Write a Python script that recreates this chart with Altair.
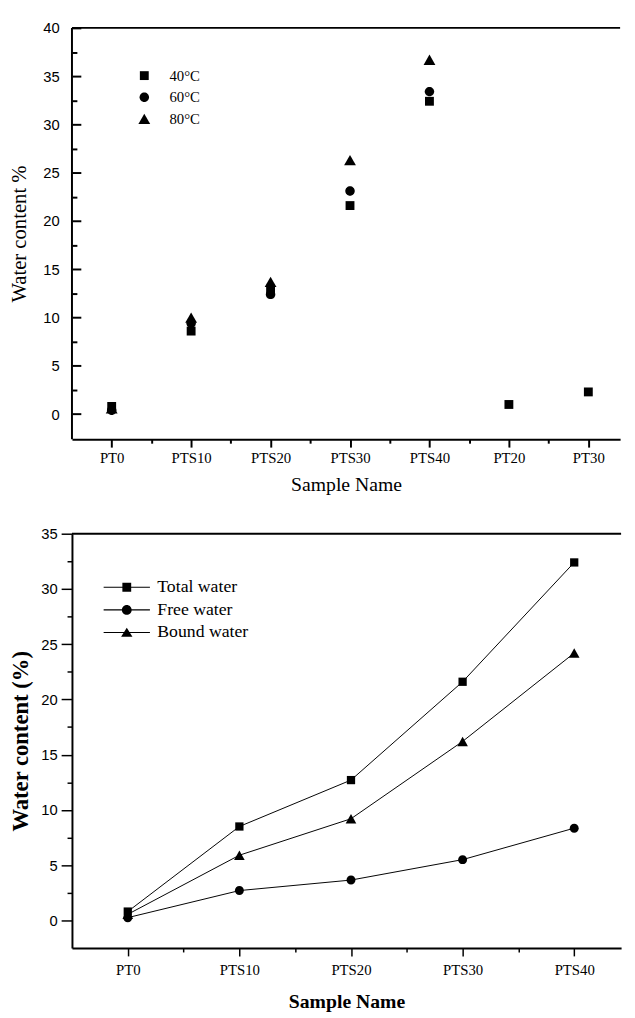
import altair as alt
import pandas as pd

# ---------------- data: top panel ----------------
top_samples = ["PT0", "PTS10", "PTS20", "PTS30", "PTS40", "PT20", "PT30"]
top_temps = ["40°C", "60°C", "80°C"]
water_40 = [0.8, 8.6, 12.8, 21.6, 32.4, 1.0, 2.3]
water_60 = [0.4, 9.4, 12.4, 23.1, 33.4]
water_80 = [0.6, 10.0, 13.7, 26.3, 36.7]

# ---------------- data: bottom panel ----------------
bot_samples = ["PT0", "PTS10", "PTS20", "PTS30", "PTS40"]
bot_series = ["Total water", "Free water", "Bound water"]
total_water = [0.8, 8.5, 12.7, 21.6, 32.4]
free_water = [0.25, 2.7, 3.65, 5.5, 8.35]
bound_water = [0.55, 5.9, 9.2, 16.2, 24.2]

top_rows = []
for temp, vals in zip(top_temps, [water_40, water_60, water_80]):
    for i, v in enumerate(vals):
        top_rows.append({"sample": top_samples[i], "idx": i, "temp": temp, "value": v})
df_top = pd.DataFrame(top_rows)

bot_rows = []
for s, vals in zip(bot_series, [total_water, free_water, bound_water]):
    for i, v in enumerate(vals):
        bot_rows.append({"sample": bot_samples[i], "idx": i, "series": s, "value": v})
df_bot = pd.DataFrame(bot_rows)

dummy = pd.DataFrame({"k": [0]})

SERIF = "Liberation Serif"
SANS = "Liberation Sans"


def label_expr(names):
    return "[" + ",".join("'" + n + "'" for n in names) + "][datum.value]"


# symbol shapes (unit box -1..1 mapped onto sqrt(size) pixels)
top_shapes = [
    "M-0.75,-0.75H0.75V0.75H-0.75Z",
    "M-0.8,0A0.8,0.8,0,1,1,0.8,0A0.8,0.8,0,1,1,-0.8,0Z",
    "M0,-0.88L1,0.88H-1Z",
]
bot_shapes = [
    "M-0.7,-0.7H0.7V0.7H-0.7Z",
    "M-0.76,0A0.76,0.76,0,1,1,0.76,0A0.76,0.76,0,1,1,-0.76,0Z",
    "M0,-0.8L0.9,0.8H-0.9Z",
]
legend_paths = [
    "M-2.94,-0.07H2.94V0.07H-2.94ZM-0.56,-0.56H0.56V0.56H-0.56Z",
    "M-2.94,-0.07H2.94V0.07H-2.94ZM-0.62,0A0.62,0.62,0,1,1,0.62,0A0.62,0.62,0,1,1,-0.62,0Z",
    "M-2.94,-0.07H2.94V0.07H-2.94ZM0,-0.62L0.72,0.55H-0.72Z",
]

# ================= TOP PANEL =================
W1, H1 = 557, 418
xs_top = alt.Scale(domain=[-0.5, 6.4], nice=False, zero=False)
ys_top = alt.Scale(domain=[-2.6, 40], nice=False, zero=False)

pts_top = alt.Chart(df_top).mark_point(
    filled=True, color="black", opacity=1, size=144, strokeWidth=0
).encode(
    x=alt.X("idx:Q", scale=xs_top, axis=alt.Axis(
        orient="bottom", values=list(range(len(top_samples))),
        labelExpr=label_expr(top_samples), title="Sample Name",
        titleFont=SERIF, titleFontSize=20, titleFontWeight="normal",
        labelFont=SERIF, labelFontSize=15, tickSize=8, tickWidth=2,
        domainWidth=2, labelPadding=4, titlePadding=9, grid=False)),
    y=alt.Y("value:Q", scale=ys_top, axis=alt.Axis(
        orient="left", values=list(range(0, 41, 5)), title="Water content %",
        titleFont=SERIF, titleFontSize=21, titleFontWeight="normal",
        labelFont=SANS, labelFontSize=15, tickSize=9, tickWidth=2,
        domain=False, offset=-9, labelPadding=13, titlePadding=14, grid=False)),
    shape=alt.Shape("temp:N", scale=alt.Scale(domain=top_temps, range=top_shapes),
                    legend=alt.Legend(
                        orient="none", legendX=66, legendY=41, title=None, padding=0,
                        labelFont=SERIF, labelFontSize=15, labelColor="black",
                        symbolSize=144, symbolFillColor="black", symbolStrokeWidth=0,
                        rowPadding=6, labelOffset=18)),
)

minor_top = alt.Chart(df_top).mark_point(opacity=0).encode(
    x=alt.X("idx:Q", scale=xs_top, axis=alt.Axis(
        orient="bottom", values=[i + 0.5 for i in range(6)], labels=False,
        title=None, tickSize=4, tickWidth=2, domain=False, grid=False)),
    y=alt.Y("value:Q", scale=ys_top, axis=alt.Axis(
        orient="left", values=[2.5 + 5 * i for i in range(8)], labels=False,
        title=None, tickSize=5, tickWidth=2, domain=False, offset=-5, grid=False)),
)

frame_top_h = alt.Chart(dummy).mark_rule(color="black", strokeWidth=2).encode(
    x=alt.value(0), x2=alt.value(W1), y=alt.value(0))
frame_top_v = alt.Chart(dummy).mark_rule(color="black", strokeWidth=2).encode(
    x=alt.value(0), y=alt.value(0), y2=alt.value(H1))

top = alt.layer(frame_top_h, frame_top_v, minor_top, pts_top).resolve_axis(
    x="independent", y="independent").properties(width=W1, height=H1)

# ================= BOTTOM PANEL =================
W2, H2 = 558, 421
xs_bot = alt.Scale(domain=[-0.5, 4.42], nice=False, zero=False)
ys_bot = alt.Scale(domain=[-2.5, 35], nice=False, zero=False)

lines_b = alt.Chart(df_bot).mark_line(color="black", strokeWidth=1).encode(
    x=alt.X("idx:Q", scale=xs_bot, axis=None),
    y=alt.Y("value:Q", scale=ys_bot, axis=None),
    detail="series:N",
)

pts_b = alt.Chart(df_bot).mark_point(
    filled=True, color="black", opacity=1, size=144, strokeWidth=0
).encode(
    x=alt.X("idx:Q", scale=xs_bot, axis=alt.Axis(
        orient="bottom", values=list(range(len(bot_samples))),
        labelExpr=label_expr(bot_samples), title="Sample Name",
        titleFont=SERIF, titleFontSize=20, titleFontWeight="bold",
        labelFont=SERIF, labelFontSize=15, tickSize=8, tickWidth=1.5,
        domainWidth=2, labelPadding=7, titlePadding=14, grid=False)),
    y=alt.Y("value:Q", scale=ys_bot, axis=alt.Axis(
        orient="left", values=list(range(0, 36, 5)), title="Water content (%)",
        titleFont=SERIF, titleFontSize=23, titleFontWeight="bold",
        labelFont=SANS, labelFontSize=15, tickSize=11, tickWidth=1.5,
        domainWidth=2, labelPadding=4, titlePadding=9, grid=False)),
    shape=alt.Shape("series:N", scale=alt.Scale(domain=bot_series, range=bot_shapes),
                    legend=None),
)

minor_b = alt.Chart(df_bot).mark_point(opacity=0).encode(
    x=alt.X("idx:Q", scale=xs_bot, axis=alt.Axis(
        orient="bottom", values=[i + 0.5 for i in range(4)], labels=False,
        title=None, tickSize=4, tickWidth=1.5, domain=False, grid=False)),
    y=alt.Y("value:Q", scale=ys_bot, axis=alt.Axis(
        orient="left", values=[2.5 + 5 * i for i in range(7)], labels=False,
        title=None, tickSize=5, tickWidth=1.5, domain=False, grid=False)),
)

leg_b = alt.Chart(df_bot).mark_point(
    filled=True, color="black", opacity=0, size=256, strokeWidth=0
).encode(
    x=alt.X("idx:Q", scale=xs_bot, axis=None),
    y=alt.Y("value:Q", scale=ys_bot, axis=None),
    shape=alt.Shape("series:N", scale=alt.Scale(domain=bot_series, range=legend_paths),
                    legend=alt.Legend(
                        orient="none", legendX=46.7, legendY=45.4, title=None, padding=0,
                        labelFont=SERIF, labelFontSize=18, labelColor="black",
                        symbolSize=256, symbolStrokeWidth=0, symbolFillColor="black",
                        rowPadding=5, labelOffset=22)),
)

frame_bot_h = alt.Chart(dummy).mark_rule(color="black", strokeWidth=2).encode(
    x=alt.value(0), x2=alt.value(W2), y=alt.value(0))

bot = alt.layer(frame_bot_h, lines_b, minor_b, pts_b, leg_b).resolve_axis(
    x="independent", y="independent").resolve_scale(
    shape="independent").properties(width=W2, height=H2)

chart = alt.vconcat(top, bot, spacing=96, bounds="flush").properties(
    padding={"left": 0, "top": 5, "right": 5, "bottom": 5}
).configure_view(stroke=None).configure_axis(
    domainColor="black", tickColor="black", labelColor="black", titleColor="black"
)

chart.save("out.html", embed_options={"renderer": "svg", "actions": False})
